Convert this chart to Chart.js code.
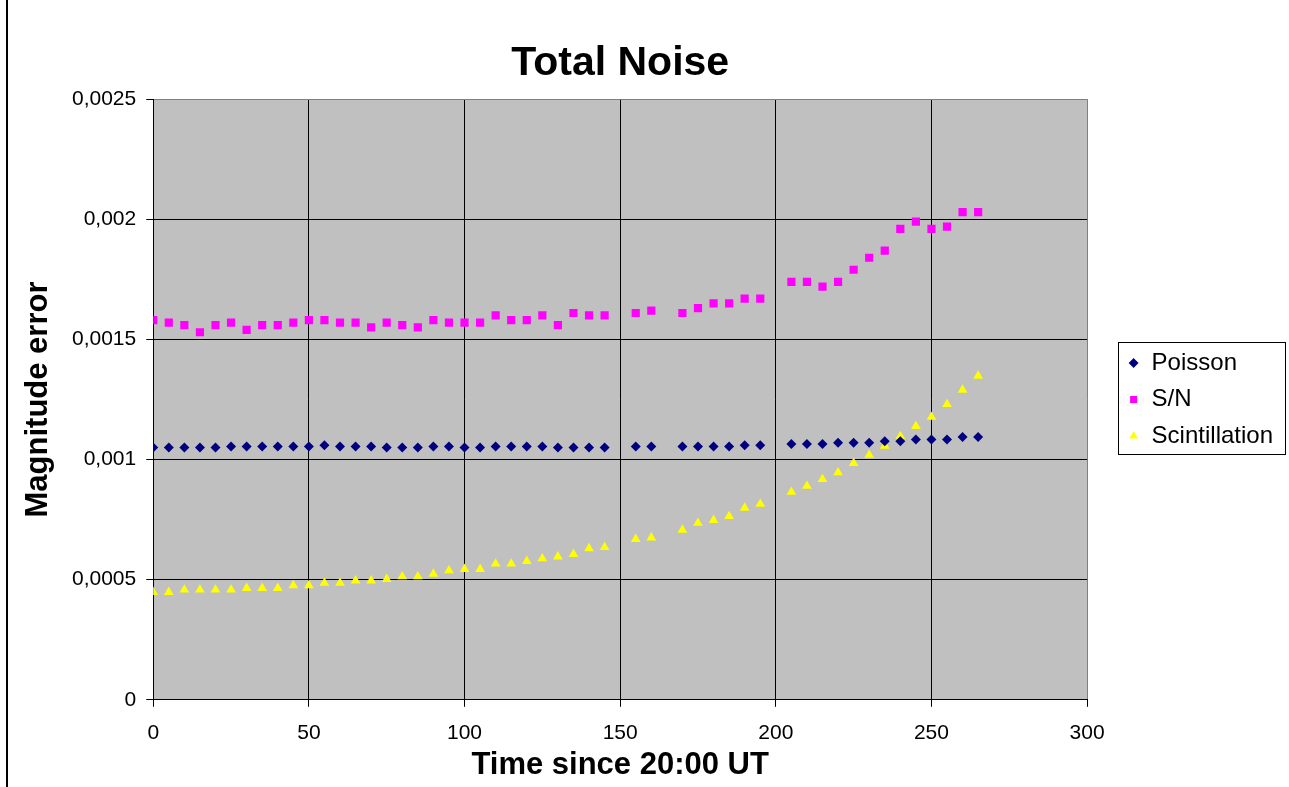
<!DOCTYPE html>
<html>
<head>
<meta charset="utf-8">
<title>Total Noise</title>
<script src="https://cdn.jsdelivr.net/npm/chart.js@4.4.1/dist/chart.umd.min.js"></script>
<style>
  html, body { margin: 0; padding: 0; background: #fff; }
  #wrap { position: relative; width: 1289px; height: 787px; }
  #edge { position: absolute; left: 6px; top: 0; width: 2px; height: 787px; background: #000; }
</style>
</head>
<body>
<div id="wrap">
  <canvas id="noiseChart"></canvas>
  <div id="edge"></div>
</div>
<script>
// minutes since 20:00 UT (no readings at 150, 165, 200)
const timeMin = [
  0, 5, 10, 15, 20, 25, 30, 35, 40, 45, 50, 55, 60, 65, 70, 75, 80, 85, 90, 95, 100,
  105, 110, 115, 120, 125, 130, 135, 140, 145,
  155, 160,
  170, 175, 180, 185, 190, 195,
  205, 210, 215, 220, 225, 230, 235, 240, 245, 250, 255, 260, 265
];

const poisson = [
  0.00105, 0.00105, 0.00105, 0.00105, 0.00105, 0.001054, 0.001054, 0.001054, 0.001054, 0.001054, 0.001054,
  0.00106, 0.001054, 0.001054, 0.001054, 0.00105, 0.00105, 0.00105, 0.001054, 0.001054, 0.00105,
  0.00105, 0.001054, 0.001054, 0.001054, 0.001054, 0.00105, 0.00105, 0.00105, 0.00105,
  0.001054, 0.001054,
  0.001054, 0.001054, 0.001054, 0.001054, 0.00106, 0.00106,
  0.001065, 0.001065, 0.001065, 0.00107, 0.00107, 0.00107, 0.001076, 0.001076, 0.001083, 0.001083,
  0.001083, 0.001094, 0.001094
];

const snRatio = [
  0.00158, 0.00157, 0.00156, 0.00153, 0.00156, 0.00157, 0.00154, 0.00156, 0.00156, 0.00157, 0.00158,
  0.00158, 0.00157, 0.00157, 0.00155, 0.00157, 0.00156, 0.00155, 0.00158, 0.00157, 0.00157,
  0.00157, 0.0016, 0.00158, 0.00158, 0.0016, 0.00156, 0.00161, 0.0016, 0.0016,
  0.00161, 0.00162,
  0.00161, 0.00163, 0.00165, 0.00165, 0.00167, 0.00167,
  0.00174, 0.00174, 0.00172, 0.00174, 0.00179, 0.00184, 0.00187, 0.00196, 0.00199, 0.00196,
  0.00197, 0.00203, 0.00203
];

const scintillation = [
  0.000448, 0.000448, 0.000458, 0.000458, 0.000458, 0.000458, 0.000465, 0.000465, 0.000465, 0.000476, 0.000476,
  0.000486, 0.000486, 0.000496, 0.000496, 0.000502, 0.000513, 0.000513, 0.000524, 0.000538, 0.000544,
  0.000544, 0.000566, 0.000566, 0.000577, 0.000588, 0.000596, 0.000606, 0.00063, 0.000635,
  0.000669, 0.000675,
  0.000707, 0.000736, 0.000748, 0.000764, 0.000799, 0.000815,
  0.000865, 0.00089, 0.000918, 0.000946, 0.000985, 0.001019, 0.001057, 0.001097, 0.001139, 0.001177,
  0.00123, 0.00129, 0.001348
];

const seriesNames = ['Poisson', 'S/N', 'Scintillation'];

const FONT = 'Arial, "Liberation Sans", sans-serif';
const LEGEND_SHIFT = 28;  // legend sits a little right of the plot, like in Excel

const toPoints = values => values.map((v, i) => ({ x: timeMin[i], y: v }));

// grey plot area
const plotBackground = {
  id: 'plotBackground',
  beforeDraw(chart) {
    const { ctx, chartArea: a } = chart;
    ctx.save();
    ctx.fillStyle = '#c0c0c0';
    ctx.fillRect(a.left, a.top, a.right - a.left, a.bottom - a.top);
    ctx.restore();
  }
};

// move legend and draw a frame round it
const legendFrame = {
  id: 'legendFrame',
  afterLayout(chart) {
    const lg = chart.legend;
    lg.left += LEGEND_SHIFT;
    lg.right += LEGEND_SHIFT;
  },
  afterDraw(chart) {
    const boxes = chart.legend.legendHitBoxes;
    if (!boxes || !boxes.length) return;
    const first = boxes[0], last = boxes[boxes.length - 1];
    const left = first.left - 10;
    const top = first.top - 9;
    const bottom = last.top + last.height + 6;
    const { ctx } = chart;
    ctx.save();
    ctx.strokeStyle = '#000';
    ctx.lineWidth = 1;
    ctx.strokeRect(Math.round(left) + 0.5, Math.round(top) + 0.5, 167, Math.round(bottom - top));
    ctx.restore();
  }
};

const ctx = document.getElementById('noiseChart').getContext('2d');

new Chart(ctx, {
  type: 'scatter',
  data: {
    datasets: [
      {
        label: seriesNames[0],
        data: toPoints(poisson),
        pointStyle: 'rectRot',
        pointRadius: 5,
        backgroundColor: '#000080',
        borderColor: '#000080',
        pointBorderWidth: 0
      },
      {
        label: seriesNames[1],
        data: toPoints(snRatio),
        pointStyle: 'rect',
        pointRadius: 5.8,
        backgroundColor: '#ff00ff',
        borderColor: '#ff00ff',
        pointBorderWidth: 0
      },
      {
        label: seriesNames[2],
        data: toPoints(scintillation),
        pointStyle: 'triangle',
        pointRadius: 5.6,
        backgroundColor: '#ffff00',
        borderColor: '#ffff00',
        pointBorderWidth: 0
      }
    ]
  },
  options: {
    responsive: true,
    maintainAspectRatio: false,
    animation: false,
    events: [],
    layout: { padding: { left: 12, right: 34, top: 0, bottom: 0 } },
    plugins: {
      title: {
        display: true,
        text: 'Total Noise',
        color: '#000',
        fullSize: false,
        font: { family: FONT, size: 41, weight: 'bold', lineHeight: 1.2 },
        padding: { top: 39, bottom: 11 }
      },
      legend: {
        position: 'right',
        fullSize: false,
        labels: {
          usePointStyle: true,
          boxWidth: 12,
          boxHeight: 7,
          padding: 12.5,
          color: '#000',
          font: { family: FONT, size: 24 }
        }
      },
      tooltip: { enabled: false }
    },
    scales: {
      x: {
        type: 'linear',
        min: 0,
        max: 300,
        ticks: {
          stepSize: 50,
          color: '#000',
          padding: 14,
          maxRotation: 0,
          font: { family: FONT, size: 21, lineHeight: 1.2 }
        },
        grid: {
          color: c => (c.index === 6 ? '#808080' : '#000'),
          tickColor: '#000',
          tickLength: 7,
          lineWidth: 1
        },
        border: { color: '#000', width: 1 },
        title: {
          display: true,
          text: 'Time since 20:00 UT',
          color: '#000',
          font: { family: FONT, size: 31, weight: 'bold', lineHeight: 1 },
          padding: { top: -10, bottom: 6 }
        }
      },
      y: {
        type: 'linear',
        min: 0,
        max: 0.0025,
        ticks: {
          stepSize: 0.0005,
          color: '#000',
          padding: 10,
          font: { family: FONT, size: 21 },
          callback: v => String(+v.toFixed(4)).replace('.', ',')
        },
        grid: {
          color: c => (c.index === 5 ? '#808080' : '#000'),
          tickColor: '#000',
          tickLength: 7,
          lineWidth: 1
        },
        border: { color: '#000', width: 1 },
        title: {
          display: true,
          text: 'Magnitude error',
          color: '#000',
          font: { family: FONT, size: 31, weight: 'bold', lineHeight: 1 },
          padding: { top: 11, bottom: 8 }
        }
      }
    }
  },
  plugins: [plotBackground, legendFrame]
});
</script>
</body>
</html>
